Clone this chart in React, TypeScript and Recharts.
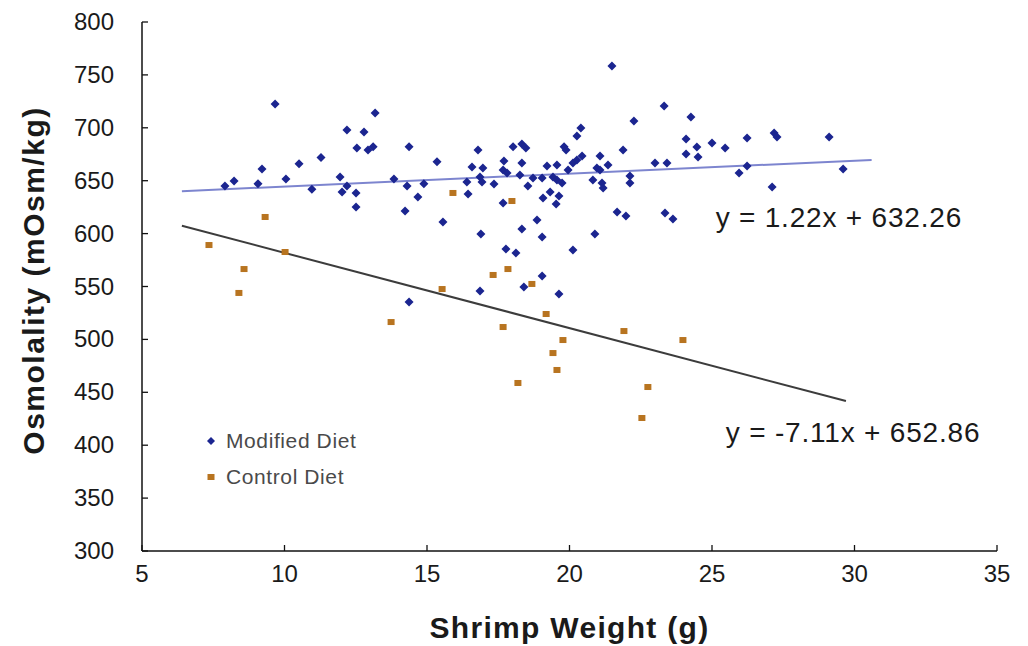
import { Legend, ReferenceDot, ReferenceLine, Scatter, ScatterChart, XAxis, YAxis } from "recharts";

// [shrimp weight (g), osmolality (mOsm/kg)]
const modifiedDiet: [number, number][] = [
  [9.67, 722.5], [13.18, 714], [12.19, 698], [12.79, 696], [12.54, 681], [12.93, 679],
  [13.11, 682], [14.37, 682], [11.28, 672], [10.51, 666], [9.21, 661], [15.35, 668],
  [11.95, 653.5], [10.05, 651.6], [8.23, 649.7], [7.91, 645], [9.07, 647], [13.84, 651.6],
  [12.19, 645], [12.02, 639.3], [10.96, 642], [12.51, 638.4], [14.3, 645], [14.89, 647],
  [14.68, 634.6], [12.51, 625.1], [14.23, 621.4], [15.56, 611], [14.37, 535.3],
  [21.49, 758.4], [23.32, 720.6], [24.26, 710.2], [22.26, 706.4], [20.4, 699.8], [20.26, 692.3],
  [24.09, 689.4], [25.0, 685.6], [24.47, 681.9], [24.51, 672.4], [24.09, 675.2], [21.88, 679],
  [19.81, 682], [19.88, 679], [18.33, 684.7], [18.47, 681], [18.02, 682], [16.79, 679],
  [17.7, 668.6], [18.33, 666.7], [20.44, 673.3], [20.26, 669.6], [20.12, 666.7], [21.07, 673.3],
  [16.58, 663], [16.96, 662], [19.21, 663.9], [19.56, 664.8], [17.67, 660.1], [17.81, 657.3],
  [20.96, 662], [21.07, 660.1], [21.35, 664.8], [19.95, 660.1], [23.0, 666.7], [23.42, 666.7],
  [16.86, 653.5], [16.93, 648.8], [18.26, 655.4], [18.72, 652.5], [19.04, 652.5], [19.42, 653.5],
  [19.56, 650.7], [19.74, 647.8], [22.12, 654.4], [22.12, 647.8], [20.82, 650.7], [21.14, 647.8],
  [16.4, 648.8], [17.35, 646.9], [18.54, 645], [21.18, 643.1], [16.44, 637.4], [19.32, 639.3],
  [19.63, 635.5], [19.07, 633.6], [17.67, 628.9], [19.53, 628], [21.67, 620.4], [21.98, 616.6],
  [23.35, 619.5], [23.63, 613.8], [18.86, 612.9], [18.33, 604.3], [16.89, 599.6], [19.04, 596.8],
  [20.89, 599.6], [17.77, 585.4], [18.12, 581.7], [20.12, 584.5], [19.04, 559.9], [16.86, 545.7],
  [18.4, 549.5], [19.63, 542.9],
  [25.46, 680.9], [26.23, 690.4], [27.18, 695.1], [27.28, 691.3], [29.11, 691.3], [26.23, 663.9],
  [25.95, 657.3], [27.11, 644], [29.6, 661],
];

const controlDiet: [number, number][] = [
  [9.32, 615.7], [7.35, 589.2], [10.02, 582.6], [8.58, 566.5], [8.4, 543.9], [15.53, 547.6],
  [13.74, 516.4], [15.91, 638.4], [17.98, 630.8], [17.32, 560.9], [17.84, 566.5], [18.68, 552.4],
  [19.18, 524], [17.67, 511.7], [19.77, 499.4], [19.42, 487.1], [19.56, 471.1], [18.19, 458.8],
  [21.91, 507.9], [23.98, 499.4], [22.75, 455], [22.54, 425.7],
];

// trend line end points
const modifiedFit: [number, number][] = [[6.4, 640.1], [30.6, 669.6]];
const controlFit: [number, number][] = [[6.4, 607.4], [29.7, 441.7]];

const modifiedEquation = "y = 1.22x + 632.26";
const controlEquation = "y = -7.11x + 652.86";
const modifiedEqAt: [number, number] = [29.45, 616];
const controlEqAt: [number, number] = [29.95, 412];

const seriesOrder = ["Modified Diet", "Control Diet"];
const xTicks = [5, 10, 15, 20, 25, 30, 35];
const yTicks = [300, 350, 400, 450, 500, 550, 600, 650, 700, 750, 800];

const COLORS = {
  modified: "#1b2590",
  control: "#b87420",
  modifiedFit: "#7d85cf",
  controlFit: "#3c3c3c",
  axis: "#111",
  text: "#1a1a1a",
  legend: "#4a4a4a",
};

const FONT = "'Liberation Sans', Arial, sans-serif";
const Y_TICK_MARGIN = 28;
const X_TICK_MARGIN = 14;

const toPoints = (rows: [number, number][]) => rows.map(([x, y]) => ({ x, y }));

function Diamond(props: any) {
  const { cx, cy, fill } = props;
  const r = 4.5;
  return (
    <polygon
      points={`${cx},${cy - r} ${cx + r},${cy} ${cx},${cy + r} ${cx - r},${cy}`}
      fill={fill}
    />
  );
}

function Square(props: any) {
  const { cx, cy, fill } = props;
  return <rect x={cx - 3.5} y={cy - 3} width={7} height={6} fill={fill} />;
}

function YTick(props: any) {
  const { x, y, payload } = props;
  const axisX = x + Y_TICK_MARGIN;
  return (
    <g>
      <line x1={axisX} x2={axisX + 6} y1={y} y2={y} stroke={COLORS.axis} strokeWidth={1.3} />
      <text x={x} y={y} dy={8} textAnchor="end" fontSize={24} fill={COLORS.text} fontFamily={FONT}>
        {payload.value}
      </text>
    </g>
  );
}

function XTick(props: any) {
  const { x, y, payload } = props;
  const axisY = y - X_TICK_MARGIN;
  return (
    <g>
      <line x1={x} x2={x} y1={axisY} y2={axisY - 6} stroke={COLORS.axis} strokeWidth={1.3} />
      <text x={x} y={y} dy={17} textAnchor="middle" fontSize={24} fill={COLORS.text} fontFamily={FONT}>
        {payload.value}
      </text>
    </g>
  );
}

function LegendBox({ payload }: any) {
  const items = [...(payload ?? [])].sort(
    (a: any, b: any) => seriesOrder.indexOf(a.value) - seriesOrder.indexOf(b.value),
  );
  return (
    <div style={{ fontFamily: FONT, fontSize: 21, color: COLORS.legend, lineHeight: "36px" }}>
      {items.map((item: any) => (
        <div key={item.value} style={{ display: "flex", alignItems: "center", gap: 10 }}>
          <svg width={10} height={10}>
            {item.value === "Modified Diet" ? (
              <polygon points="5,1 9,5 5,9 1,5" fill={item.color} />
            ) : (
              <rect x={1.5} y={2} width={7} height={6} fill={item.color} />
            )}
          </svg>
          <span style={{ letterSpacing: 0.6 }}>{item.value}</span>
        </div>
      ))}
    </div>
  );
}

const titleStyle = { fontWeight: 700, fill: COLORS.text, fontFamily: FONT };
const eqStyle = { fontSize: 28, letterSpacing: 0.8, fill: COLORS.text, fontFamily: FONT };

export default function App() {
  return (
    <div style={{ position: "absolute", left: 0, top: 0, background: "#fff", fontFamily: FONT }}>
      <ScatterChart width={1028} height={646} margin={{ top: 22, right: 31, bottom: 0, left: 0 }}>
        <XAxis
          type="number"
          dataKey="x"
          domain={[5, 35]}
          ticks={xTicks}
          height={95}
          tickSize={0}
          tickMargin={X_TICK_MARGIN}
          tick={<XTick />}
          axisLine={{ stroke: COLORS.axis, strokeWidth: 1.5 }}
          label={{
            value: "Shrimp Weight (g)",
            position: "insideBottom",
            offset: 8,
            style: { ...titleStyle, fontSize: 30, letterSpacing: 1.3 },
          }}
        />
        <YAxis
          type="number"
          dataKey="y"
          domain={[300, 800]}
          ticks={yTicks}
          width={142}
          tickSize={0}
          tickMargin={Y_TICK_MARGIN}
          tick={<YTick />}
          axisLine={{ stroke: COLORS.axis, strokeWidth: 1.5 }}
          label={{
            value: "Osmolality (mOsm/kg)",
            angle: -90,
            position: "center",
            dx: -38,
            dy: -6,
            style: { ...titleStyle, fontSize: 30, letterSpacing: 1.5 },
          }}
        />
        <ReferenceLine segment={toPoints(modifiedFit)} stroke={COLORS.modifiedFit} strokeWidth={2} />
        <ReferenceLine segment={toPoints(controlFit)} stroke={COLORS.controlFit} strokeWidth={2} />
        <Scatter
          name="Modified Diet"
          data={toPoints(modifiedDiet)}
          fill={COLORS.modified}
          shape={<Diamond />}
          isAnimationActive={false}
        />
        <Scatter
          name="Control Diet"
          data={toPoints(controlDiet)}
          fill={COLORS.control}
          shape={<Square />}
          isAnimationActive={false}
        />
        <ReferenceDot
          x={modifiedEqAt[0]}
          y={modifiedEqAt[1]}
          r={0}
          stroke="none"
          label={{ value: modifiedEquation, position: "center", ...eqStyle }}
        />
        <ReferenceDot
          x={controlEqAt[0]}
          y={controlEqAt[1]}
          r={0}
          stroke="none"
          label={{ value: controlEquation, position: "center", ...eqStyle }}
        />
        <Legend
          layout="vertical"
          align="center"
          verticalAlign="middle"
          wrapperStyle={{ left: 206, top: 423, width: "auto" }}
          content={<LegendBox />}
        />
      </ScatterChart>
    </div>
  );
}
